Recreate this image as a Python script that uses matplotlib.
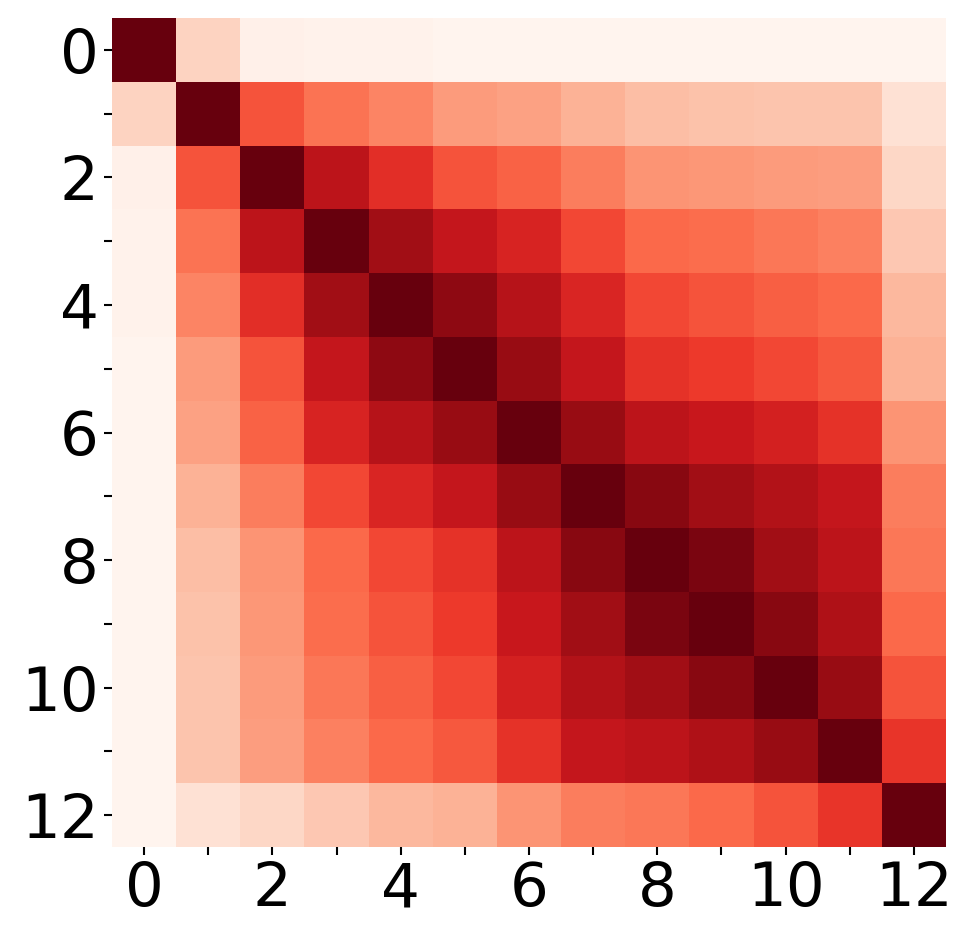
import numpy as np
import matplotlib
matplotlib.use("Agg")
import matplotlib.pyplot as plt

# Lower-triangle values (row i, cols 0..i), symmetric matrix
lower = [
    [1.00],
    [0.17, 1.00],
    [0.03, 0.56, 1.00],
    [0.02, 0.47, 0.80, 1.00],
    [0.02, 0.42, 0.67, 0.88, 1.00],
    [0.01, 0.35, 0.56, 0.77, 0.92, 1.00],
    [0.01, 0.33, 0.52, 0.71, 0.82, 0.90, 1.00],
    [0.01, 0.28, 0.44, 0.59, 0.70, 0.77, 0.90, 1.00],
    [0.01, 0.24, 0.37, 0.50, 0.59, 0.66, 0.80, 0.93, 1.00],
    [0.01, 0.23, 0.36, 0.49, 0.56, 0.63, 0.76, 0.88, 0.96, 1.00],
    [0.01, 0.22, 0.35, 0.46, 0.53, 0.59, 0.72, 0.83, 0.88, 0.93, 1.00],
    [0.01, 0.22, 0.34, 0.43, 0.50, 0.55, 0.66, 0.77, 0.80, 0.84, 0.90, 1.00],
    [0.01, 0.12, 0.16, 0.21, 0.26, 0.28, 0.37, 0.44, 0.46, 0.50, 0.56, 0.65, 1.00],
]
n = len(lower)
labels = [str(i) if i % 2 == 0 else "" for i in range(n)]

M = np.zeros((n, n))
for i, row in enumerate(lower):
    for j, v in enumerate(row):
        M[i, j] = v
        M[j, i] = v

fig = plt.figure(figsize=(9.7, 9.41), dpi=100)
ax = fig.add_axes([112/970, 1-847/941, 834/970, 829/941])
ax.pcolormesh(np.arange(n+1), np.arange(n+1), M, cmap="Reds", vmin=0, vmax=1)
ax.set_xlim(0, n)
ax.set_ylim(n, 0)
ax.set_xticks(np.arange(n) + 0.5)
ax.set_yticks(np.arange(n) + 0.5)
ax.set_xticklabels(labels)
ax.set_yticklabels(labels, rotation=0)
ax.tick_params(labelsize=44, length=6, width=1.5)
for s in ax.spines.values():
    s.set_visible(False)
fig.savefig("out.png", dpi=100)
